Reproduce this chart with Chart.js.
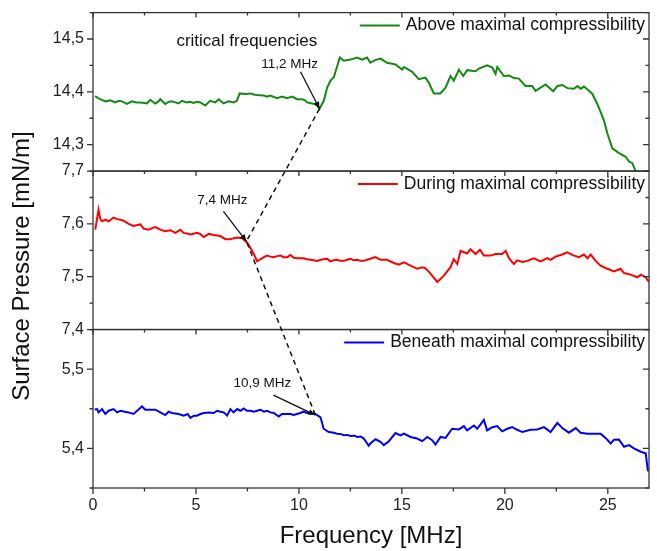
<!DOCTYPE html>
<html>
<head>
<meta charset="utf-8">
<script src="https://cdn.jsdelivr.net/npm/chart.js@4"></script>
<style>
  html, body { margin: 0; padding: 0; background: #fff; }
  canvas { display: block; }
</style>
</head>
<body>
<canvas id="chart" width="657" height="551"></canvas>
<script>
// series: [frequency MHz, surface pressure mN/m]
var aboveData = [
  [0.1, 14.392], [0.35, 14.386], [0.6, 14.382], [0.84, 14.384], [1.08, 14.380], [1.25, 14.383],
  [1.41, 14.382], [1.65, 14.377], [1.89, 14.382], [2.1, 14.380], [2.3, 14.380], [2.5, 14.379],
  [2.62, 14.378], [2.78, 14.385], [3.02, 14.378], [3.15, 14.381], [3.27, 14.386], [3.51, 14.377],
  [3.67, 14.381], [3.83, 14.382], [4.0, 14.380], [4.16, 14.378], [4.32, 14.383], [4.56, 14.380],
  [4.72, 14.381], [4.88, 14.379], [5.05, 14.381], [5.21, 14.380], [5.45, 14.374], [5.69, 14.383],
  [5.94, 14.380], [6.1, 14.386], [6.34, 14.378], [6.59, 14.382], [6.83, 14.380], [6.99, 14.383],
  [7.12, 14.397], [7.4, 14.396], [7.64, 14.397], [7.8, 14.395], [7.96, 14.394], [8.29, 14.393],
  [8.45, 14.391], [8.61, 14.393], [8.94, 14.388], [9.18, 14.391], [9.42, 14.388], [9.67, 14.391],
  [9.91, 14.386], [10.15, 14.386], [10.3, 14.384], [10.4, 14.380], [10.64, 14.378], [10.85, 14.377],
  [11.0, 14.368], [11.21, 14.383], [11.37, 14.408], [11.53, 14.421], [11.7, 14.428], [11.86, 14.449],
  [11.99, 14.465], [12.18, 14.459], [12.5, 14.461], [12.83, 14.465], [13.07, 14.461], [13.31, 14.465],
  [13.47, 14.455], [13.7, 14.460], [13.96, 14.463], [14.28, 14.455], [14.52, 14.453], [14.69, 14.452],
  [15.01, 14.442], [15.1, 14.447], [15.5, 14.438], [15.82, 14.424], [16.14, 14.427], [16.3, 14.418],
  [16.55, 14.397], [16.87, 14.397], [17.12, 14.408], [17.36, 14.430], [17.52, 14.421], [17.77, 14.442],
  [17.98, 14.430], [18.17, 14.441], [18.58, 14.439], [18.74, 14.444], [19.14, 14.450], [19.39, 14.446],
  [19.55, 14.434], [19.63, 14.447], [19.95, 14.430], [20.2, 14.431], [20.44, 14.426], [20.68, 14.425],
  [21.0, 14.411], [21.33, 14.411], [21.49, 14.402], [21.98, 14.414], [22.35, 14.401], [22.55, 14.411],
  [22.79, 14.413], [23.04, 14.407], [23.36, 14.406], [23.52, 14.411], [23.68, 14.406], [23.84, 14.410],
  [24.09, 14.402], [24.25, 14.396], [24.49, 14.377], [24.81, 14.346], [24.98, 14.321], [25.22, 14.293],
  [25.54, 14.284], [25.87, 14.277], [26.03, 14.268], [26.19, 14.265], [26.35, 14.250]
];

var duringData = [
  [0.11, 7.589], [0.27, 7.627], [0.35, 7.610], [0.44, 7.605], [0.6, 7.608], [0.76, 7.605],
  [1.0, 7.612], [1.17, 7.609], [1.33, 7.608], [1.49, 7.606], [1.73, 7.600], [1.97, 7.596],
  [2.15, 7.598], [2.3, 7.599], [2.46, 7.591], [2.7, 7.589], [2.87, 7.592], [3.03, 7.594],
  [3.27, 7.589], [3.51, 7.586], [3.76, 7.588], [4.0, 7.583], [4.24, 7.589], [4.4, 7.583],
  [4.56, 7.582], [4.73, 7.580], [5.05, 7.583], [5.2, 7.581], [5.38, 7.575], [5.62, 7.581],
  [5.86, 7.579], [6.03, 7.578], [6.19, 7.577], [6.43, 7.571], [6.67, 7.571], [6.85, 7.573],
  [7.0, 7.574], [7.24, 7.573], [7.48, 7.565], [7.64, 7.555], [7.81, 7.543], [7.97, 7.529],
  [8.13, 7.533], [8.3, 7.537], [8.45, 7.540], [8.62, 7.538], [8.78, 7.537], [8.94, 7.539],
  [9.1, 7.540], [9.26, 7.537], [9.43, 7.537], [9.59, 7.541], [9.75, 7.536], [9.91, 7.535],
  [10.07, 7.535], [10.23, 7.535], [10.4, 7.533], [10.56, 7.532], [10.72, 7.531], [10.88, 7.530],
  [11.05, 7.532], [11.21, 7.533], [11.37, 7.534], [11.53, 7.529], [11.69, 7.531], [11.85, 7.532],
  [12.02, 7.530], [12.18, 7.530], [12.34, 7.532], [12.5, 7.534], [12.66, 7.531], [12.83, 7.532],
  [12.99, 7.530], [13.15, 7.530], [13.31, 7.532], [13.47, 7.534], [13.72, 7.537], [13.96, 7.532],
  [14.28, 7.532], [14.61, 7.526], [14.85, 7.523], [15.1, 7.527], [15.42, 7.521], [15.74, 7.515],
  [15.99, 7.518], [16.15, 7.516], [16.39, 7.506], [16.72, 7.490], [17.04, 7.502], [17.36, 7.518],
  [17.52, 7.533], [17.69, 7.524], [17.85, 7.549], [18.17, 7.544], [18.33, 7.552], [18.58, 7.543],
  [18.79, 7.551], [18.98, 7.540], [19.3, 7.540], [19.55, 7.543], [19.87, 7.543], [20.04, 7.549],
  [20.2, 7.535], [20.44, 7.524], [20.6, 7.531], [20.85, 7.528], [21.09, 7.530], [21.41, 7.535],
  [21.74, 7.529], [22.06, 7.535], [22.22, 7.532], [22.46, 7.538], [22.79, 7.542], [23.03, 7.546],
  [23.36, 7.540], [23.6, 7.537], [23.84, 7.542], [24.01, 7.535], [24.17, 7.542], [24.41, 7.530],
  [24.65, 7.521], [24.98, 7.515], [25.3, 7.510], [25.62, 7.515], [25.79, 7.507], [26.11, 7.504],
  [26.43, 7.499], [26.6, 7.504], [26.84, 7.499], [27.0, 7.490]
];

var beneathData = [
  [0.08, 5.4490], [0.2, 5.4496], [0.27, 5.4454], [0.44, 5.4496], [0.6, 5.4434], [0.76, 5.4475],
  [1.0, 5.4496], [1.17, 5.4454], [1.33, 5.4475], [1.55, 5.4463], [1.73, 5.4454], [1.97, 5.4434],
  [2.2, 5.4488], [2.38, 5.4529], [2.54, 5.4488], [2.78, 5.4488], [3.03, 5.4488], [3.27, 5.4454],
  [3.51, 5.4421], [3.67, 5.4463], [3.83, 5.4446], [4.16, 5.4434], [4.4, 5.4413], [4.6, 5.4434],
  [4.73, 5.4384], [4.9, 5.4413], [5.05, 5.4413], [5.21, 5.4434], [5.38, 5.4446], [5.62, 5.4454],
  [5.86, 5.4446], [6.03, 5.4475], [6.19, 5.4463], [6.35, 5.4454], [6.51, 5.4413], [6.67, 5.4496],
  [6.83, 5.4454], [7.0, 5.4496], [7.16, 5.4475], [7.32, 5.4504], [7.48, 5.4475], [7.64, 5.4475],
  [7.81, 5.4463], [7.97, 5.4475], [8.13, 5.4488], [8.3, 5.4463], [8.45, 5.4475], [8.62, 5.4454],
  [8.78, 5.4446], [9.02, 5.4401], [9.18, 5.4434], [9.35, 5.4434], [9.59, 5.4434], [9.75, 5.4421],
  [10.07, 5.4446], [10.23, 5.4463], [10.4, 5.4446], [10.56, 5.4446], [10.8, 5.4434], [11.05, 5.4392],
  [11.2, 5.4248], [11.45, 5.4206], [11.7, 5.4196], [11.85, 5.4186], [12.05, 5.4180], [12.18, 5.4165],
  [12.35, 5.4170], [12.5, 5.4157], [12.7, 5.4160], [12.83, 5.4144], [13.0, 5.4150], [13.15, 5.4124],
  [13.39, 5.4033], [13.47, 5.4062], [13.72, 5.4115], [13.96, 5.4082], [14.12, 5.4041], [14.37, 5.4091],
  [14.69, 5.4194], [14.93, 5.4165], [15.1, 5.4186], [15.42, 5.4144], [15.74, 5.4124], [15.99, 5.4091],
  [16.23, 5.4144], [16.47, 5.4103], [16.63, 5.4049], [16.88, 5.4144], [17.12, 5.4132], [17.44, 5.4248],
  [17.77, 5.4239], [18.01, 5.4281], [18.17, 5.4227], [18.5, 5.4289], [18.66, 5.4248], [18.98, 5.4359],
  [19.14, 5.4227], [19.39, 5.4268], [19.63, 5.4281], [19.87, 5.4215], [20.12, 5.4248], [20.36, 5.4268],
  [20.6, 5.4235], [20.85, 5.4206], [21.25, 5.4235], [21.57, 5.4239], [21.9, 5.4268], [22.22, 5.4206],
  [22.55, 5.4322], [22.79, 5.4256], [23.11, 5.4198], [23.44, 5.4256], [23.68, 5.4198], [24.01, 5.4186],
  [24.33, 5.4186], [24.65, 5.4186], [24.89, 5.4132], [25.14, 5.4062], [25.3, 5.4110], [25.54, 5.4111],
  [25.79, 5.4020], [26.03, 5.4041], [26.27, 5.4000], [26.6, 5.3958], [26.84, 5.3938], [26.95, 5.3710]
];

var seriesLabels = ['Above maximal compressibility', 'During maximal compressibility', 'Beneath maximal compressibility'];

// tick labels
var freqTicks = [0, 5, 10, 15, 20, 25];
var aboveTicks = [14.3, 14.4, 14.5];
var duringTicks = [7.4, 7.5, 7.6, 7.7];
var beneathTicks = [5.4, 5.5];

// critical frequencies (arrows point at these)
var critLabels = ['11,2 MHz', '7,4 MHz', '10,9 MHz'];
var critFreq = [11.0, 7.45, 10.8];
var critPressure = [14.368, 7.567, 5.442];

var FONT = "'Liberation Sans', Arial, sans-serif";
Chart.defaults.font.family = FONT;
Chart.defaults.color = '#222';

function fmt(v) { return Number(v).toFixed(1).replace('.', ','); }
function toXY(arr) { return arr.map(function (p) { return { x: p[0], y: p[1] }; }); }

function panelAxis(ticks, min, max) {
  return {
    type: 'linear',
    position: 'left',
    stack: 'panels',
    stackWeight: 1,
    min: min,
    max: max,
    grid: { display: false, drawTicks: true, tickLength: 6 },
    border: { display: false },
    afterBuildTicks: function (s) { s.ticks = ticks.map(function (v) { return { value: v }; }); },
    afterFit: function (s) { s.width = 93; },
    ticks: { font: { size: 16 }, padding: 3, color: '#222', callback: function (v) { return fmt(v); } }
  };
}

// frame, inner ticks, per-panel legends, y title and the critical-frequency notes
var panelDecor = {
  id: 'panelDecor',
  afterDatasetsDraw: function (chart) {
    var ctx = chart.ctx, xs = chart.scales.x;
    var L = xs.left, R = xs.right;
    var panels = ['yG', 'yR', 'yB'];
    ctx.save();
    ctx.strokeStyle = '#333';
    ctx.lineWidth = 1.3;
    panels.forEach(function (id) {
      var s = chart.scales[id];
      ctx.strokeRect(L, s.top, R - L, s.bottom - s.top);
      ctx.beginPath();
      var n = Math.round((s.max - s.min) / 0.05);
      for (var i = 0; i <= n; i++) {
        var v = s.min + i * 0.05;
        var major = Math.abs(v * 10 - Math.round(v * 10)) < 1e-6;
        var py = s.getPixelForValue(v);
        var len = major ? 6 : 3.5;
        ctx.moveTo(L - len, py); ctx.lineTo(L, py);
        ctx.moveTo(R, py); ctx.lineTo(R - len, py);
      }
      for (var f = 0; f <= 27; f += 2.5) {
        var px = xs.getPixelForValue(f);
        var l2 = f % 5 === 0 ? 5 : 3;
        ctx.moveTo(px, s.top); ctx.lineTo(px, s.top + l2);
      }
      ctx.stroke();
    });
    ctx.beginPath();
    for (var f2 = 0; f2 <= 27; f2 += 2.5) {
      var px2 = xs.getPixelForValue(f2);
      var l3 = f2 % 5 === 0 ? 6 : 3.5;
      ctx.moveTo(px2, xs.top); ctx.lineTo(px2, xs.top + l3);
    }
    ctx.stroke();

    // shared y title, sits a little below the middle of the stack
    ctx.save();
    ctx.translate(22.5, chart.scales.yR.getPixelForValue(7.52));
    ctx.rotate(-Math.PI / 2);
    ctx.font = '24px ' + FONT;
    ctx.fillStyle = '#111';
    ctx.textAlign = 'center';
    ctx.textBaseline = 'middle';
    ctx.fillText('Surface Pressure [mN/m]', 0, 0);
    ctx.restore();

    // legends
    ctx.font = '17.5px ' + FONT;
    ctx.textAlign = 'right';
    ctx.textBaseline = 'middle';
    chart.data.datasets.forEach(function (ds) {
      var s = chart.scales[ds.yAxisID];
      var y = s.top + 13;
      var tx = R - 4;
      var w = ctx.measureText(ds.label).width;
      ctx.fillStyle = '#111';
      ctx.fillText(ds.label, tx, y);
      ctx.strokeStyle = ds.borderColor;
      ctx.lineWidth = 2;
      ctx.beginPath();
      ctx.moveTo(tx - w - 46, y); ctx.lineTo(tx - w - 6, y);
      ctx.stroke();
    });

    // critical frequencies
    var tips = critFreq.map(function (f, i) {
      return [xs.getPixelForValue(f), chart.scales[panels[i]].getPixelForValue(critPressure[i])];
    });
    ctx.strokeStyle = '#111';
    ctx.lineWidth = 1.5;
    ctx.setLineDash([5, 4]);
    ctx.beginPath();
    ctx.moveTo(tips[0][0], tips[0][1]);
    ctx.lineTo(tips[1][0], tips[1][1]);
    ctx.lineTo(tips[2][0], tips[2][1]);
    ctx.stroke();
    ctx.setLineDash([]);

    var tails = [[-19, -37], [-23, -30], [-42, -20]];
    var labelOff = [[-30, -44], [-24, -41], [-53, -32]];
    ctx.fillStyle = '#111';
    ctx.lineWidth = 1.3;
    ctx.textAlign = 'center';
    ctx.font = '13.5px ' + FONT;
    tips.forEach(function (t, i) {
      var sx = t[0] + tails[i][0], sy = t[1] + tails[i][1];
      var a = Math.atan2(t[1] - sy, t[0] - sx);
      ctx.beginPath();
      ctx.moveTo(sx, sy); ctx.lineTo(t[0], t[1]);
      ctx.stroke();
      ctx.beginPath();
      ctx.moveTo(t[0], t[1]);
      ctx.lineTo(t[0] - 7 * Math.cos(a) + 3 * Math.sin(a), t[1] - 7 * Math.sin(a) - 3 * Math.cos(a));
      ctx.lineTo(t[0] - 7 * Math.cos(a) - 3 * Math.sin(a), t[1] - 7 * Math.sin(a) + 3 * Math.cos(a));
      ctx.closePath();
      ctx.fill();
      ctx.fillText(critLabels[i], t[0] + labelOff[i][0], t[1] + labelOff[i][1]);
    });

    ctx.textAlign = 'left';
    ctx.font = '17px ' + FONT;
    ctx.fillText('critical frequencies', xs.getPixelForValue(4.05), chart.scales.yG.getPixelForValue(14.495));
    ctx.restore();
  }
};

var ctx = document.getElementById('chart').getContext('2d');
var chart = new Chart(ctx, {
  type: 'line',
  data: {
    datasets: [
      { label: seriesLabels[0], data: toXY(aboveData), yAxisID: 'yG', borderColor: '#128a12' },
      { label: seriesLabels[1], data: toXY(duringData), yAxisID: 'yR', borderColor: '#ff0000' },
      { label: seriesLabels[2], data: toXY(beneathData), yAxisID: 'yB', borderColor: '#0000ff' }
    ]
  },
  options: {
    responsive: false,
    animation: false,
    devicePixelRatio: 1,
    layout: { padding: { top: 7, right: 8, bottom: 0, left: 0 } },
    elements: {
      line: { borderWidth: 2, tension: 0 },
      point: { radius: 0 }
    },
    scales: {
      x: {
        type: 'linear',
        position: 'bottom',
        min: 0,
        max: 27,
        grid: { display: false, drawTicks: true, tickLength: 6 },
        border: { display: false },
        afterBuildTicks: function (s) { s.ticks = freqTicks.map(function (v) { return { value: v }; }); },
        afterFit: function (s) { s.height = 63; },
        ticks: { font: { size: 16 }, padding: 2, maxRotation: 0, color: '#222' },
        title: {
          display: true, text: 'Frequency [MHz]', color: '#111',
          font: { size: 24 }, padding: { top: 0, bottom: 0 }
        }
      },
      yB: panelAxis(beneathTicks, 5.35, 5.55),
      yR: panelAxis(duringTicks, 7.4, 7.7),
      yG: panelAxis(aboveTicks, 14.25, 14.55)
    },
    plugins: {
      legend: { display: false },
      tooltip: { enabled: false }
    }
  },
  plugins: [panelDecor]
});
</script>
</body>
</html>
